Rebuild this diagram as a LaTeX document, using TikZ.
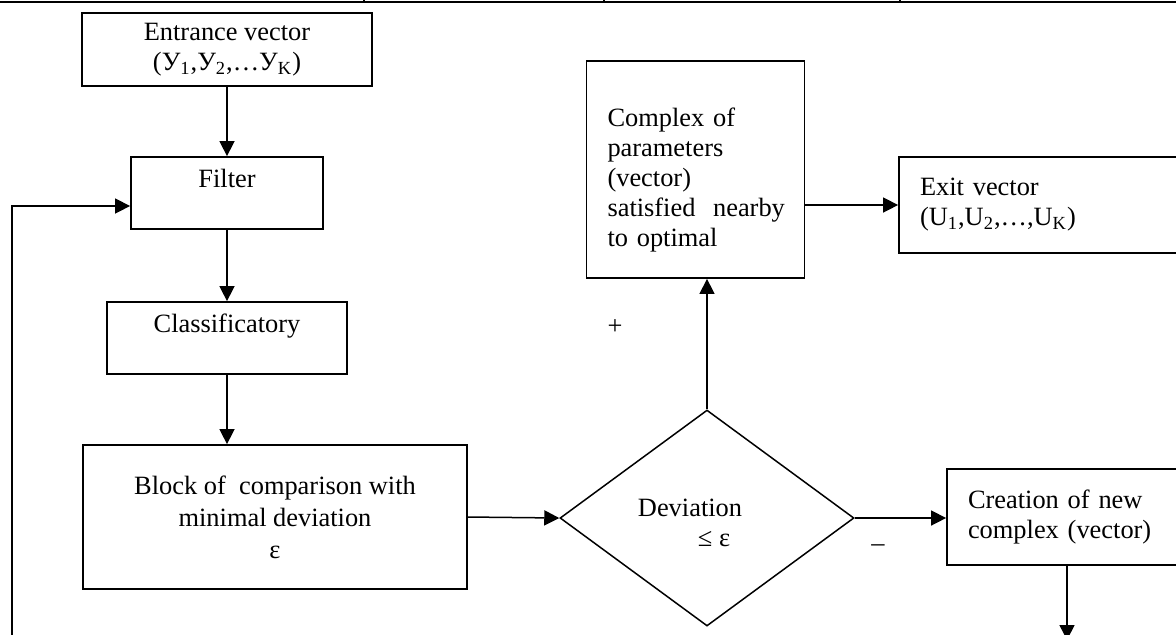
\documentclass[tikz,border=0pt]{standalone}
\usepackage{fontspec}
\setmainfont{Liberation Serif}
\usetikzlibrary{positioning}
\usetikzlibrary{shapes.geometric}
\usetikzlibrary{arrows.meta}
\newcommand{\lowidx}[1]{\textsubscript{#1}}
\tikzset{%
  flowarrow/.style = {-{Triangle[length=7.5pt,width=7.5pt]},line width=0.75pt},
  b/.style = {rectangle,draw,line width=0.9pt,inner sep=0pt,align=center},
  lb/.style = {rectangle,draw,line width=0.9pt,inner ysep=0pt,
        inner xsep=10.5pt,align=left},
  d/.style = {diamond,draw,line width=0.75pt,inner sep=0pt,align=center,
        minimum width=147pt,minimum height=108pt}
}

\begin{document}
\begin{tikzpicture}[x=0.5pt,y=-0.5pt,font=\fontsize{13.2}{15}\selectfont]
    \useasboundingbox (0,0) rectangle (1176,634);
    \clip (0,0) rectangle (1176,634);
    \draw[line width=1pt] (0,2) -- (1176,2);
    \foreach \x in {364,604,900}
        \draw[line width=0.6pt] (\x,0) -- (\x,2);

    \node[b,minimum width=145pt,minimum height=36.5pt] (entrance) at (227,49.5)
        {Entrance vector\\(У\lowidx{1},У\lowidx{2},…У\lowidx{K})};
    \node[b,minimum width=96pt,minimum height=36pt] (filter) at (227,193)
        {Filter\\[-5pt]\strut};
    \node[b,minimum width=120pt,minimum height=36pt] (class) at (227,338)
        {Classificatory\\[-5pt]\strut};
    \node[b,minimum width=192pt,minimum height=72pt] (block) at (275,517)
        {Block of~ comparison with\\[1pt]minimal deviation\\[1pt]ε};
    \node[d] (dev) at (707,518)
        {\rule{0pt}{14pt}Deviation\hspace*{17pt}\\\hspace*{7pt}≤ ε};
    \node[lb,text width=88pt,minimum height=108.5pt] (complex) at (695.5,169.5)
        {\rule{0pt}{20pt}Complex of\\parameters\\(vector)\\satisfied~ nearby\\to optimal};
    \node[lb,text width=124.5pt,minimum height=48pt] (exit) at (1044.5,205)
        {Exit vector\\(U\lowidx{1},U\lowidx{2},…,U\lowidx{K})};
    \node[lb,text width=100.5pt,minimum height=48pt] (creation) at (1068.5,517)
        {Creation of new\\complex (vector)};

    \node (plus) at (615,327) {+};
    \node (minus) at (878,548) {–};

    \coordinate (loop) at (12,650);
    \coordinate (out) at (1067,640);

    \draw[flowarrow] (entrance) -- (filter);
    \draw[flowarrow] (filter) -- (class);
    \draw[flowarrow] (class.south) -- (class.south |- block.north);
    \draw[flowarrow] (block.east) -- (dev.west);
    \draw[flowarrow] (dev.north) -- (dev.north |- complex.south);
    \draw[flowarrow] (complex.east |- exit.west) -- (exit.west);
    \draw[flowarrow] (dev.east) -- (creation.west |- dev.east);
    \draw[flowarrow] (creation.south -| out) -- (out);
    \draw[flowarrow] (loop) |- ([yshift=-6.5pt]filter.west);
\end{tikzpicture}
\end{document}
